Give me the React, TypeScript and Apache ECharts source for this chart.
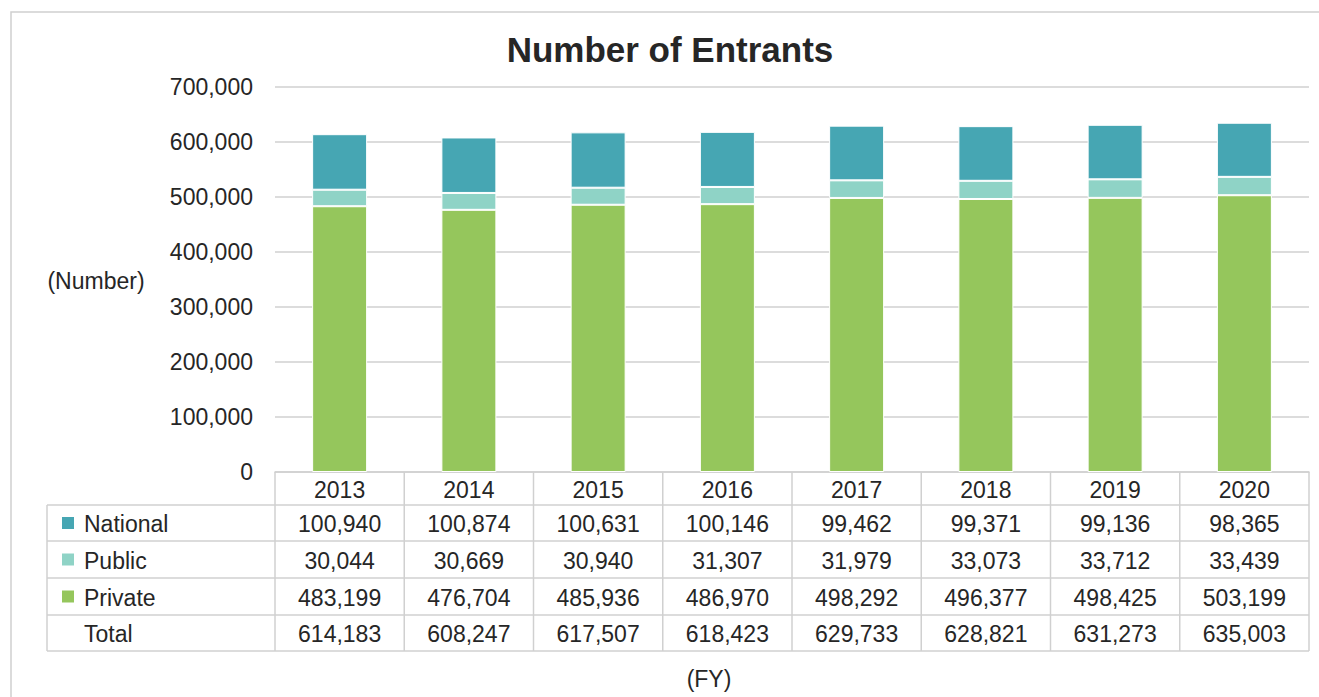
import React, { useEffect, useRef } from "react";
import * as echarts from "echarts";

const categories = ["2013", "2014", "2015", "2016", "2017", "2018", "2019", "2020"];
const nationalValues = [100940, 100874, 100631, 100146, 99462, 99371, 99136, 98365];
const publicValues = [30044, 30669, 30940, 31307, 31979, 33073, 33712, 33439];
const privateValues = [483199, 476704, 485936, 486970, 498292, 496377, 498425, 503199];
const totalValues = [614183, 608247, 617507, 618423, 629733, 628821, 631273, 635003];
const seriesNames = ["National", "Public", "Private", "Total"];

const COLORS = { National: "#46A6B3", Public: "#8FD3C6", Private: "#95C65C" };
const FONT = '"Liberation Sans", Arial, sans-serif';
const TEXT = "#262626";
const GRID = "#d0d0d0";

const fmt = (v: number) => v.toLocaleString("en-US");

export default function App() {
  const ref = useRef<HTMLDivElement>(null);
  useEffect(() => {
    if (!ref.current) return;
    const chart = echarts.init(ref.current, undefined, { renderer: "svg" });
    const gridLeft = 275;
    const gridRight = 1309;
    const gridTop = 87;
    const gridBottom = 472;
    chart.setOption({
      animation: false,
      grid: { left: gridLeft, right: 1319 - gridRight, top: gridTop, bottom: 697 - gridBottom, containLabel: false },
      xAxis: {
        type: "category",
        data: categories,
        axisLine: { show: true, lineStyle: { color: GRID, width: 1.5 } },
        axisTick: { show: false },
        axisLabel: { show: false },
      },
      yAxis: {
        type: "value",
        min: 0,
        max: 700000,
        interval: 100000,
        axisLine: { show: false },
        axisTick: { show: false },
        splitLine: { lineStyle: { color: GRID, width: 1.5 } },
        axisLabel: {
          margin: 22,
          color: TEXT,
          fontSize: 23,
          fontFamily: FONT,
          formatter: (v: number) => fmt(v),
        },
      },
      series: [
        {
          name: "Private",
          type: "bar",
          stack: "t",
          barWidth: 55,
          data: privateValues,
          itemStyle: { color: COLORS.Private, borderColor: "#fff", borderWidth: 1 },
        },
        {
          name: "Public",
          type: "bar",
          stack: "t",
          barWidth: 55,
          data: publicValues,
          itemStyle: { color: COLORS.Public, borderColor: "#fff", borderWidth: 1 },
        },
        {
          name: "National",
          type: "bar",
          stack: "t",
          barWidth: 55,
          data: nationalValues,
          itemStyle: { color: COLORS.National, borderColor: "#fff", borderWidth: 1 },
        },
      ],
    });

    const xs = categories.map((c) => chart.convertToPixel({ xAxisIndex: 0 }, c) as number);
    const half = (xs[1] - xs[0]) / 2;
    const headerBottom = 505;
    const rowBounds = [505, 541, 578, 615, 651];
    const tableLeft = 47;
    const rows: { name: string; vals: number[] }[] = [
      { name: seriesNames[0], vals: nationalValues },
      { name: seriesNames[1], vals: publicValues },
      { name: seriesNames[2], vals: privateValues },
      { name: seriesNames[3], vals: totalValues },
    ];

    const txt = (text: string, x: number, y: number, opts: any = {}) => ({
      type: "text",
      silent: true,
      style: {
        text,
        x,
        y,
        fill: opts.fill || TEXT,
        font: opts.font || `23px ${FONT}`,
        align: opts.align || "center",
        verticalAlign: "middle",
        textAlign: opts.align || "center",
        textVerticalAlign: "middle",
      },
    });
    const line = (x1: number, y1: number, x2: number, y2: number) => ({
      type: "line",
      silent: true,
      shape: { x1, y1, x2, y2 },
      style: { stroke: GRID, lineWidth: 1.5 },
    });

    const elements: any[] = [];
    // outer frame
    elements.push({
      type: "rect",
      silent: true,
      shape: { x: 11, y: 12, width: 1340, height: 720 },
      style: { fill: "none", stroke: GRID, lineWidth: 1.5 },
    });
    elements.push(txt("Number of Entrants", 670, 49, { font: `bold 35px ${FONT}` }));
    elements.push(txt("(Number)", 96, 281));
    elements.push(txt("(FY)", 709, 679));

    // table lines
    const left0 = xs[0] - half;
    const rightN = xs[xs.length - 1] + half;
    elements.push(line(rightN, gridBottom, rightN, rowBounds[rowBounds.length - 1]));
    xs.forEach((x) => elements.push(line(x - half, gridBottom, x - half, rowBounds[rowBounds.length - 1])));
    elements.push(line(left0, headerBottom, left0, headerBottom));
    rowBounds.forEach((y) => elements.push(line(tableLeft, y, rightN, y)));
    elements.push(line(tableLeft, rowBounds[0], tableLeft, rowBounds[rowBounds.length - 1]));

    // header
    categories.forEach((c, i) => elements.push(txt(c, xs[i], (gridBottom + headerBottom) / 2 + 1)));

    rows.forEach((r, ri) => {
      const cy = (rowBounds[ri] + rowBounds[ri + 1]) / 2 + 1;
      const col = (COLORS as any)[r.name];
      if (col) {
        elements.push({
          type: "rect",
          silent: true,
          shape: { x: 62, y: cy - 7, width: 12, height: 12 },
          style: { fill: col },
        });
      }
      elements.push(txt(r.name, 84, cy, { align: "left" }));
      r.vals.forEach((v, i) => elements.push(txt(fmt(v), xs[i], cy)));
    });

    chart.setOption({ graphic: { elements } });

    return () => chart.dispose();
  }, []);

  return (
    <div
      ref={ref}
      style={{ position: "absolute", left: 0, top: 0, width: 1319, height: 697, background: "#fff" }}
    />
  );
}
